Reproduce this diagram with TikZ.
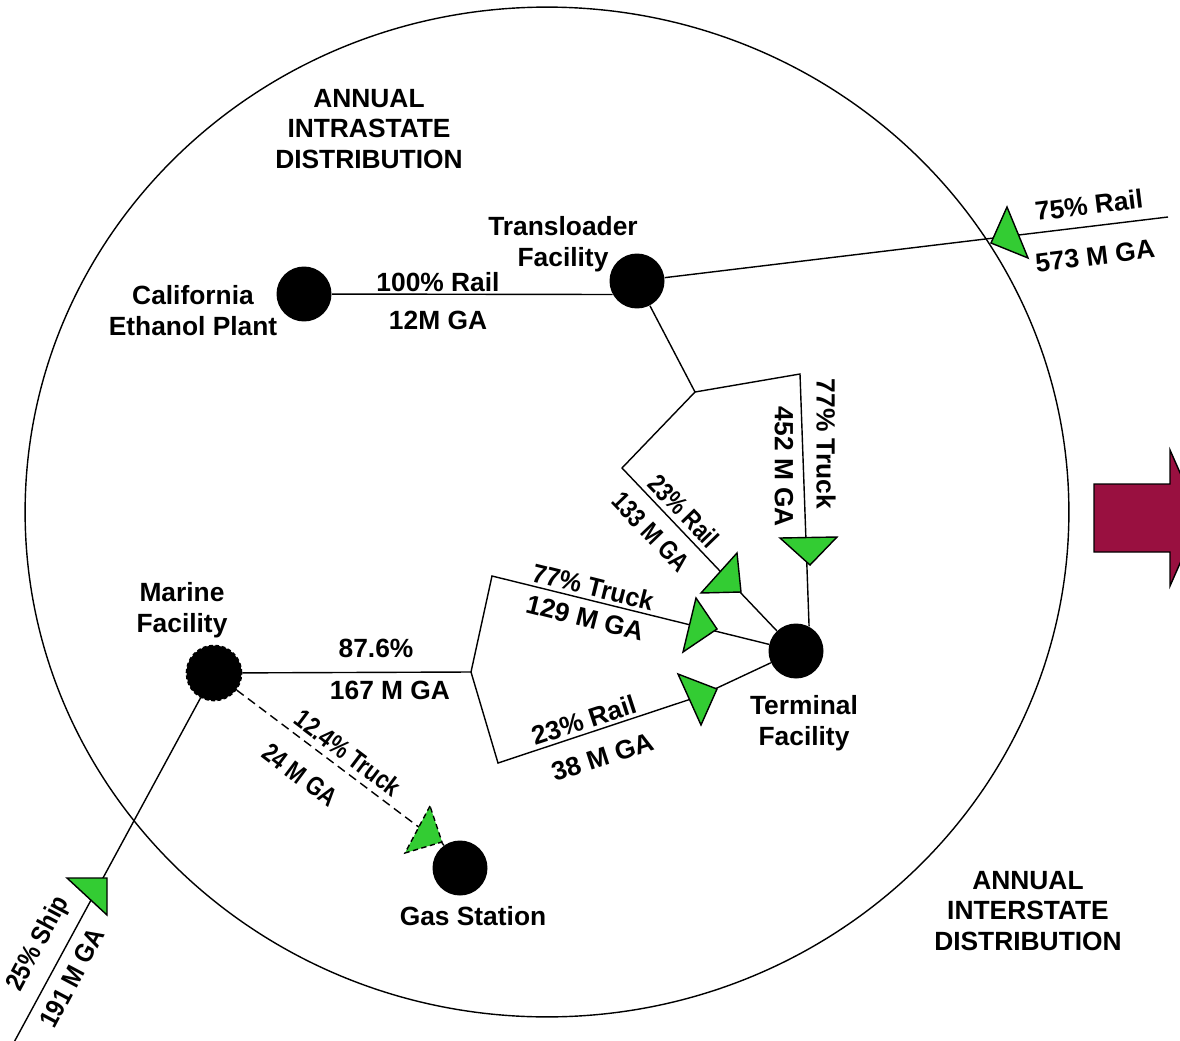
\documentclass[tikz,border=0pt]{standalone}
\usepackage{fontspec}
\setmainfont{Liberation Sans}
\definecolor{trigreen}{RGB}{51,204,51}
\definecolor{maroon}{RGB}{153,16,64}
\tikzset{
  lbl/.style={font=\fontsize{15}{17.6}\selectfont\bfseries, align=center, inner sep=0pt},
  dot/.style={circle, fill=black, minimum size=1.1cm, inner sep=0pt},
  link/.style={draw=black, line width=0.8pt},
  tri/.style={fill=trigreen, draw=black, line width=0.8pt, line join=miter},
}
\newcommand{\cond}[2]{\scalebox{#1}[1]{#2}}
\begin{document}
\begin{tikzpicture}[x=0.02cm, y=-0.02cm]
\useasboundingbox (0,0) rectangle (1180,1041);
\clip (0,0) rectangle (1180,1041);
\fill[white] (0,0) rectangle (1180,1041);

% big boundary
\draw[line width=0.8pt] (547,512) ellipse [x radius=10.44cm, y radius=10.1cm];

% big arrow
\fill[maroon, draw=black, line width=0.8pt, line join=miter]
  (1094,484) -- (1170,484) -- (1170,450) -- (1200,518) -- (1170,586) -- (1170,552) -- (1094,552) -- cycle;

% nodes (circles)
\node[dot] (plant) at (304,294) {};
\node[dot] (trans) at (637,281) {};
\node[dot] (term) at (796,651) {};
\node[dot, draw=black, line width=1pt, dash pattern=on 2.2pt off 1.4pt] (marine) at (214,673) {};
\node[dot] (gas) at (460,868) {};

% junction coordinates
\coordinate (j1) at (695,392);
\coordinate (j1r) at (800,374);
\coordinate (j1l) at (622,468);
\coordinate (j2) at (471,672);
\coordinate (j2u) at (492,576);
\coordinate (j2d) at (498,763);
\coordinate (eastend) at (1168,217);
\coordinate (shipend) at (12,1046);

% connectors
\draw[link] (plant) -- (trans.209);
\draw[link] (trans) -- (eastend);
\draw[link] (trans) -- (j1) -- (j1r) -- (term.62);
\draw[link] (j1) -- (j1l) -- (term);
\draw[link] (marine) -- (j2);
\draw[link] (j2) -- (j2u) -- (term);
\draw[link] (j2) -- (j2d) -- (688,700) -- (717,688) -- (term);
\draw[link] (marine) -- (shipend);
\draw[link, dashed, dash pattern=on 5pt off 3pt] (marine) -- (420,828);
\draw[link] (440,840) -- (gas);

% triangles
\draw[tri] (1007,207) -- (991,243) -- (1028,258) -- cycle;
\draw[tri] (780,538) -- (837,537) -- (810,565) -- cycle;
\draw[tri] (737,553) -- (701,593) -- (741,592) -- cycle;
\draw[tri] (696,598) -- (683,652) -- (717,629) -- cycle;
\draw[tri] (678,674) -- (701,725) -- (717,689) -- cycle;
\draw[tri, dashed, dash pattern=on 3pt off 2pt] (430,806) -- (405,853) -- (442,842) -- cycle;
\draw[tri] (67,878) -- (107,878) -- (107,915) -- cycle;

% labels
\node[lbl] (intra) at (369,129) {ANNUAL\\INTRASTATE\\DISTRIBUTION};
\node[lbl] (inter) at (1028,911) {ANNUAL\\INTERSTATE\\DISTRIBUTION};
\node[lbl] (translbl) at (563,244) {Transloader\\Facility};
\node[lbl] (plantlbl) at (193,311) {California\\Ethanol Plant};
\node[lbl] (marinelbl) at (182,610) {Marine\\Facility};
\node[lbl] (termlbl) at (804,723) {Terminal\\Facility};
\node[lbl] (gaslbl) at (473,916) {Gas Station};

\node[lbl] at (438,282) {100\% Rail};
\node[lbl] at (438,320) {12M GA};
\node[lbl, rotate=7] at (1089,205) {75\% Rail};
\node[lbl, rotate=7] at (1095,256) {573 M GA};
\node[lbl, rotate=-90] at (826,444) {77\% Truck};
\node[lbl, rotate=-90] at (784,467) {452 M GA};
\node[lbl, rotate=-46] at (684,511) {\cond{0.82}{23\% Rail}};
\node[lbl, rotate=-46] at (651,532) {\cond{0.82}{133 M GA}};
\node[lbl, rotate=-14] at (593,587) {\cond{0.95}{77\% Truck}};
\node[lbl, rotate=-14] at (585,618) {129 M GA};
\node[lbl] at (376,648) {87.6\%};
\node[lbl] at (390,690) {167 M GA};
\node[lbl, rotate=18] at (584,720) {23\% Rail};
\node[lbl, rotate=18] at (603,757) {38 M GA};
\node[lbl, rotate=-37] at (348,753) {\cond{0.82}{12.4\% Truck}};
\node[lbl, rotate=-37] at (300,775) {\cond{0.82}{24 M GA}};
\node[lbl, rotate=62] at (39,944) {\cond{0.88}{25\% Ship}};
\node[lbl, rotate=62] at (72,978) {\cond{0.9}{191 M GA}};
\end{tikzpicture}
\end{document}
